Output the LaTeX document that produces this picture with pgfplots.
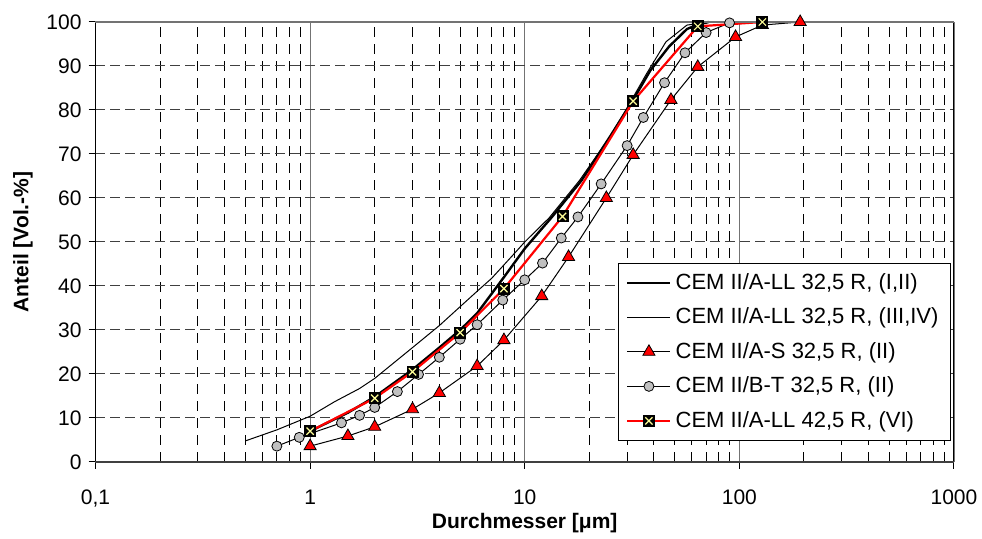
\documentclass[border=0pt]{standalone}
\usepackage{fontspec}
\setmainfont{Liberation Sans}
\usepackage{pgfplots}
\pgfplotsset{compat=1.18}
\definecolor{xyellow}{RGB}{255,255,153}
\definecolor{cgray}{RGB}{192,192,192}

% black square with a light yellow cross
\pgfdeclareplotmark{sqx}{%
  \pgfpathrectangle{\pgfpoint{-\pgfplotmarksize}{-\pgfplotmarksize}}{\pgfpoint{2\pgfplotmarksize}{2\pgfplotmarksize}}%
  \pgfsetfillcolor{black}\pgfusepath{fill}%
  \pgfsetstrokecolor{xyellow}\pgfsetlinewidth{0.6pt}%
  \pgfpathmoveto{\pgfpoint{-0.6\pgfplotmarksize}{-0.6\pgfplotmarksize}}%
  \pgfpathlineto{\pgfpoint{0.6\pgfplotmarksize}{0.6\pgfplotmarksize}}%
  \pgfpathmoveto{\pgfpoint{-0.6\pgfplotmarksize}{0.6\pgfplotmarksize}}%
  \pgfpathlineto{\pgfpoint{0.6\pgfplotmarksize}{-0.6\pgfplotmarksize}}%
  \pgfusepath{stroke}}

\begin{document}
\begin{tikzpicture}
\useasboundingbox (-47.75pt,-38.5pt) rectangle (443.25pt,231pt);
\begin{axis}[
    xmode=log, log basis x=10,
    scale only axis,
    width=429.25pt, height=220pt,
    xmin=0.1, xmax=1000, ymin=0, ymax=100,
    xtick={0.1,1,10,100,1000},
    xticklabels={{0,1},1,10,100,1000},
    minor xtick={0.2,0.3,0.4,0.5,0.6,0.7,0.8,0.9,2,3,4,5,6,7,8,9,
        20,30,40,50,60,70,80,90,200,300,400,500,600,700,800,900},
    ytick={0,10,...,100},
    /pgf/number format/assume math mode=true,
    tick label style={font=\fontsize{10.5}{12}\selectfont},
    xticklabel style={yshift=-7pt},
    xtick pos=left, ytick pos=left,
    tick align=outside,
    major tick length=3.5pt, minor tick length=0pt,
    tick style={black, line width=0.5pt},
    xmajorgrids, xminorgrids, ymajorgrids,
    major x grid style={solid, black!55, line width=0.6pt},
    minor x grid style={black, line width=0.5pt, dash pattern=on 5pt off 3.5pt},
    major y grid style={black!75, line width=0.5pt, dash pattern=on 5pt off 2.5pt},
    axis line style={black, line width=0.5pt},
    xlabel={\bfseries Durchmesser [μm]},
    ylabel={\bfseries Anteil [Vol.-\%]},
    label style={font=\fontsize{10.5}{12}\selectfont},
    xlabel style={at={(axis description cs:0.5,0)}, anchor=center, yshift=-30.5pt},
    clip=false,
    legend cell align=left,
    legend style={at={(rel axis cs:0.9965,0.048)}, anchor=south east,
        draw=black, line width=0.5pt, fill=white,
        font=\fontsize{11}{13}\selectfont, row sep=3.8pt,
        inner xsep=4pt, inner ysep=3pt},
    legend image code/.code={%
        \draw[mark repeat=2, mark phase=2, #1]
        plot coordinates {(0pt,0pt) (10.75pt,0pt) (21.5pt,0pt)};},
]
% CEM II/A-LL 32,5 R, (I,II)
\addplot[black, line width=1.2pt, no markers] coordinates {
    (1,7) (1.5,11.2) (2,14.8) (3,21) (4,26) (5,30) (6,33.8) (8,42)
    (10,48.5) (13.4,55.7) (18.4,64) (25,74) (32,82.3) (38.5,89)
    (47,94.4) (57,98.4) (64,99.4) (72,100)
};
\addlegendentry{CEM II/A-LL 32,5 R, (I,II)}
% CEM II/A-LL 32,5 R, (III,IV)
\addplot[black, line width=0.5pt, no markers] coordinates {
    (0.5,4.8) (0.7,7.3) (1,10.4) (1.3,13.7) (1.7,16.7) (2,19) (3,26)
    (4,31) (5,35.3) (6,38.8) (7,41.7) (8.8,47) (10,50) (13,55.5)
    (18,64) (25,74) (30,80.5) (37,88.3) (45.5,95.5) (57,99.3) (73,100)
};
\addlegendentry{CEM II/A-LL 32,5 R, (III,IV)}
% CEM II/A-S 32,5 R, (II)
\addplot[black, line width=0.5pt, mark=triangle*,
    mark options={solid, fill=red, draw=black, line width=0.4pt}, mark size=3.5pt] coordinates {
    (1,3.6) (1.5,5.9) (2,8) (3,12) (4,15.7) (6,21.8) (8,27.7) (12,37.7)
    (16,46.6) (24,60) (32,69.8) (48,82.3) (64,89.8) (96,96.6) (128,99.3) (192,100)
};
\addlegendentry{CEM II/A-S 32,5 R, (II)}
% CEM II/B-T 32,5 R, (II)
\addplot[black, line width=0.5pt, mark=*,
    mark options={solid, fill=cgray, draw=black, line width=0.4pt}, mark size=2.5pt] coordinates {
    (0.7,3.6) (0.89,5.6) (1.4,8.9) (1.7,10.6) (2,12.4) (2.55,16) (3.2,19.9)
    (4,23.8) (5,27.9) (6,31.2) (7.9,36.8) (10,41.4) (12.1,45.2) (14.8,50.9)
    (17.7,55.7) (22.7,63.2) (30,71.9) (35.7,78.3) (44.8,86.2) (55.8,93)
    (70,97.6) (90,99.8)
};
\addlegendentry{CEM II/B-T 32,5 R, (II)}
% CEM II/A-LL 42,5 R, (VI)
\addplot[red, line width=1.1pt, mark=sqx, mark size=3pt] coordinates {
    (1,7) (2,14.5) (3,20.5) (5,29.4) (8,39.4) (15,55.8) (32,82) (64,99) (128,100)
};
\addlegendentry{CEM II/A-LL 42,5 R, (VI)}
\draw[black!55, line width=1pt] (rel axis cs:0,1) -- (rel axis cs:1,1);
\draw[black!75, line width=1.3pt] (rel axis cs:0,0) -- (rel axis cs:1,0);
\end{axis}
\end{tikzpicture}
\end{document}
